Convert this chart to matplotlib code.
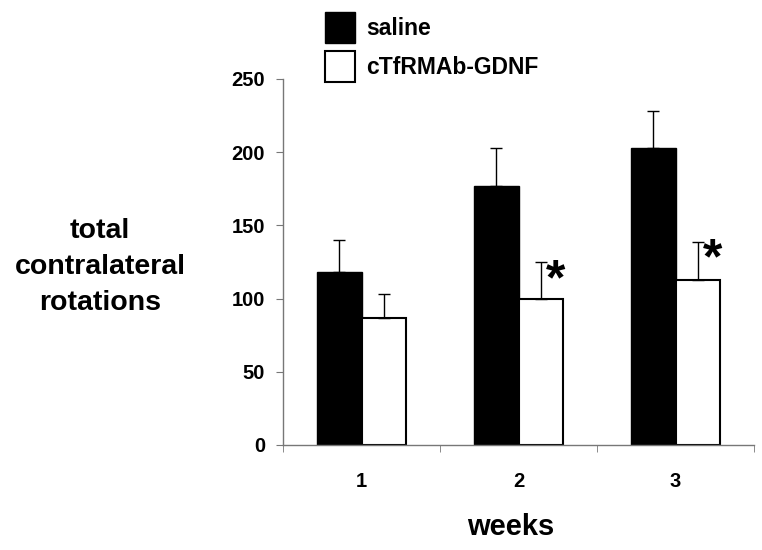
import matplotlib
matplotlib.use("Agg")
import matplotlib.pyplot as plt
from matplotlib.patches import Patch
import numpy as np

plt.rcParams['font.family'] = ['Liberation Sans', 'DejaVu Sans']
plt.rcParams['font.weight'] = 'bold'

weeks = ["1", "2", "3"]
saline = [118, 177, 203]
saline_err = [22, 26, 25]
ctfr = [87, 100, 113]
ctfr_err = [16, 25, 26]
significant = [False, True, True]
series_names = ["saline", "cTfRMAb-GDNF"]
yticks = [0, 50, 100, 150, 200, 250]

fig = plt.figure(figsize=(7.62, 5.5), dpi=100)
ax = fig.add_axes([283/762, 1-445/550, (754-283)/762, (445-79)/550])

x = np.arange(len(weeks))
w = 0.285
ekw = dict(ecolor='black', elinewidth=1.0, capsize=4, capthick=1.0)
ax.bar(x - w/2, saline, w, color='black', edgecolor='black', linewidth=1.0,
       yerr=[np.zeros(3), saline_err], error_kw=ekw, zorder=2)
ax.bar(x + w/2, ctfr, w, color='white', edgecolor='black', linewidth=1.5,
       yerr=[np.zeros(3), ctfr_err], error_kw=ekw, zorder=2)

for xi, v, e, s in zip(x, ctfr, ctfr_err, significant):
    if s:
        ax.text(xi + w/2 + 0.096, v + e - 22, "*", fontsize=36, fontweight='bold',
                ha='center', va='baseline')

ax.set_xlim(-0.5, 2.5)
ax.set_ylim(0, 250)
ax.set_yticks(yticks)
ax.set_yticklabels([str(t) for t in yticks], fontsize=14.5, fontweight='bold')
ax.set_xticks(x)
ax.set_xticklabels(weeks, fontsize=14.5, fontweight='bold')
ax.tick_params(axis='x', which='major', length=0, pad=19.5)
ax.set_xticks(np.arange(-0.5, 3.0, 1.0), minor=True)
ax.tick_params(axis='x', which='minor', length=5, color='#777777', direction='out')
ax.tick_params(axis='y', length=5, color='#777777', pad=8, direction='out')

for s in ['top', 'right']:
    ax.spines[s].set_visible(False)
for s in ['left', 'bottom']:
    ax.spines[s].set_color('#777777')
    ax.spines[s].set_linewidth(1.0)

ax.set_xlabel("weeks", fontsize=21, fontweight='bold')
ax.xaxis.set_label_coords((511-283)/(754-283), -(527-445)/366, transform=ax.transAxes)
ax.xaxis.label.set_va('center')

fig.text(100/762, 1-267/550, "total\ncontralateral\nrotations", fontsize=20.5,
         fontweight='bold', ha='center', va='center', linespacing=1.52)

handles = [Patch(facecolor='black', edgecolor='black', linewidth=1.0),
           Patch(facecolor='white', edgecolor='black', linewidth=1.5)]
fig.legend(handles, series_names, loc='upper left',
           bbox_to_anchor=(325/762, 1-12/550), frameon=False,
           prop={'size': 16.5, 'weight': 'bold'}, handlelength=1.3,
           handleheight=1.7, handletextpad=0.5, labelspacing=0.35,
           borderpad=0, borderaxespad=0)

fig.savefig("out.png", dpi=100, facecolor='white')
